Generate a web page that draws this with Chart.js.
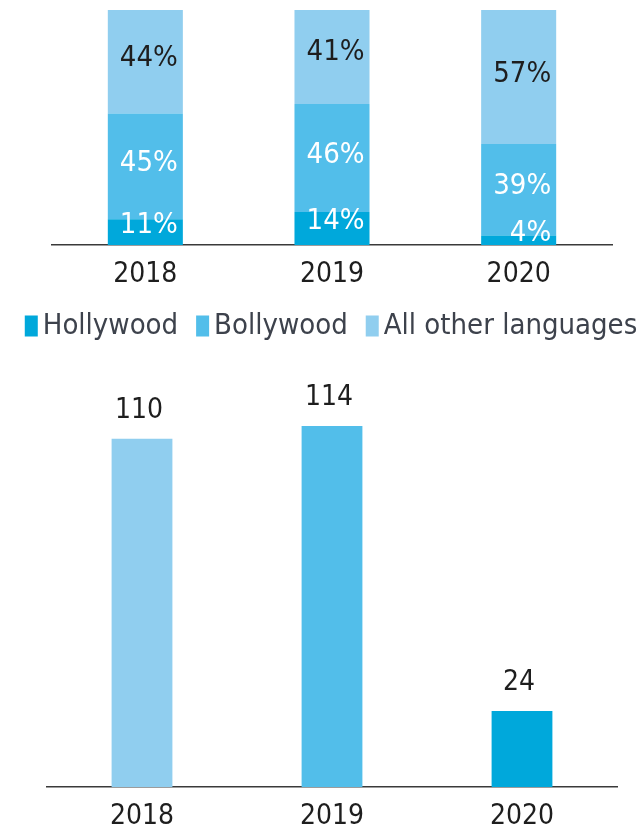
<!DOCTYPE html>
<html>
<head>
<meta charset="utf-8">
<script src="https://cdn.jsdelivr.net/npm/chart.js@4/dist/chart.umd.min.js"></script>
<style>
  html, body { margin: 0; padding: 0; background: #fff; }
  #top { position: relative; width: 638px; height: 351px; }
  #bottom { position: relative; width: 638px; height: 480px; }
</style>
</head>
<body>
<div id="top"><canvas id="shareChart"></canvas></div>
<div id="bottom"><canvas id="totalChart"></canvas></div>
<script>
const years = ['2018', '2019', '2020'];
const hollywood = [11, 14, 4];
const bollywood = [45, 46, 39];
const otherLangs = [44, 41, 57];
const totals = [110, 114, 24];

const C_HOLLY = '#00a8db';
const C_BOLLY = '#52beea';
const C_OTHER = '#90ceef';
const TEXT = '#1e1e1e';
const LEGEND_TEXT = '#3d424c';
const FONT = "'DejaVu Sans Condensed', 'Liberation Sans Narrow', 'Open Sans', sans-serif";

Chart.defaults.font.family = FONT;
Chart.defaults.font.size = 28;
Chart.defaults.color = TEXT;

// writes the values on or above the bars
const valueLabels = {
    id: 'valueLabels',
    afterDatasetsDraw(chart, args, opts) {
        const ctx = chart.ctx;
        ctx.save();
        ctx.font = opts.size + 'px ' + FONT;
        ctx.textBaseline = 'middle';
        chart.data.datasets.forEach((ds, i) => {
            chart.getDatasetMeta(i).data.forEach((bar, j) => {
                const txt = ds.data[j] + (opts.suffix || '');
                ctx.fillStyle = ds.labelColor || TEXT;
                if (opts.above) {
                    ctx.textAlign = 'center';
                    ctx.fillText(txt, bar.x - 3, bar.y - 28);
                } else {
                    // inside the segment, right aligned
                    const h = bar.base - bar.y;
                    ctx.textAlign = 'right';
                    ctx.fillText(txt, bar.x + bar.width / 2 - 5, (bar.y + bar.base) / 2 - (h < 40 ? 7 : 3));
                }
            });
        });
        ctx.restore();
    }
};

// legend with small boxes close to the text
const tightLegend = {
    id: 'tightLegend',
    afterDraw(chart, args, opts) {
        const ctx = chart.ctx;
        const sets = chart.data.datasets;
        ctx.save();
        ctx.font = opts.size + 'px ' + FONT;
        ctx.textBaseline = 'middle';
        ctx.textAlign = 'left';
        const widths = sets.map(ds => ctx.measureText(ds.label).width);
        const total = widths.reduce((a, w) => a + w + opts.box + opts.gap, 0) + opts.spacing * (sets.length - 1);
        let x = opts.center - total / 2;
        sets.forEach((ds, i) => {
            ctx.fillStyle = ds.backgroundColor;
            ctx.fillRect(x, opts.y - opts.boxH / 2, opts.box, opts.boxH);
            x += opts.box + opts.gap;
            ctx.fillStyle = LEGEND_TEXT;
            ctx.fillText(ds.label, x, opts.y);
            x += widths[i] + opts.spacing;
        });
        ctx.restore();
    }
};

const axisX = {
    grid: { display: false, drawTicks: false },
    border: { display: true, color: '#3a3a3a', width: 1.5 },
    ticks: { padding: 13, color: TEXT, font: { size: 28 } }
};

// stacked share chart
new Chart(document.getElementById('shareChart').getContext('2d'), {
    type: 'bar',
    data: {
        labels: years,
        datasets: [
            { label: 'Hollywood', data: hollywood, backgroundColor: C_HOLLY, labelColor: '#ffffff' },
            { label: 'Bollywood', data: bollywood, backgroundColor: C_BOLLY, labelColor: '#ffffff' },
            { label: 'All other languages', data: otherLangs, backgroundColor: C_OTHER, labelColor: TEXT }
        ]
    },
    options: {
        responsive: true,
        maintainAspectRatio: false,
        animation: false,
        datasets: { bar: { barPercentage: 0.402, categoryPercentage: 1 } },
        layout: { padding: { left: 52, right: 26, top: 10, bottom: 0 } },
        scales: {
            x: Object.assign({}, axisX, {
                stacked: true,
                afterFit(scale) { scale.height = 106; }
            }),
            y: { stacked: true, display: false, min: 0, max: 100 }
        },
        plugins: {
            legend: { display: false },
            tooltip: { enabled: false },
            valueLabels: { suffix: '%', above: false, size: 29 },
            tightLegend: { y: 326, center: 331, box: 13, boxH: 21, gap: 5, spacing: 18, size: 29 }
        }
    },
    plugins: [valueLabels, tightLegend]
});

// total chart
new Chart(document.getElementById('totalChart').getContext('2d'), {
    type: 'bar',
    data: {
        labels: years,
        datasets: [{
            label: 'Total',
            data: totals,
            backgroundColor: [C_OTHER, C_BOLLY, C_HOLLY],
            labelColor: TEXT
        }]
    },
    options: {
        responsive: true,
        maintainAspectRatio: false,
        animation: false,
        datasets: { bar: { barPercentage: 0.32, categoryPercentage: 1 } },
        layout: { padding: { left: 47, right: 21, top: 56, bottom: 0 } },
        scales: {
            x: Object.assign({}, axisX, {
                afterFit(scale) { scale.height = 44; }
            }),
            y: { display: false, min: 0, max: 120 }
        },
        plugins: {
            legend: { display: false },
            tooltip: { enabled: false },
            valueLabels: { above: true, size: 28 }
        }
    },
    plugins: [valueLabels]
});
</script>
</body>
</html>
